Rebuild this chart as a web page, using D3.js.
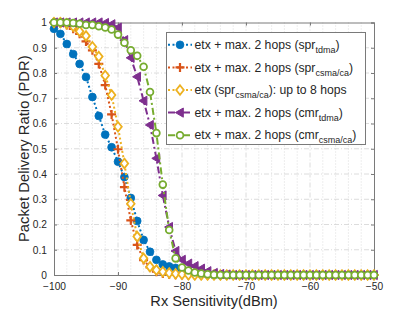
<!DOCTYPE html>
<html>
<head>
<meta charset="utf-8">
<script src="https://cdn.jsdelivr.net/npm/d3@7"></script>
<style>
  body { margin: 0; background: #fff; }
  svg { font-family: "Liberation Sans", Arial, sans-serif; }
</style>
</head>
<body>
<div id="chart"></div>
<script>
// Rx sensitivity (dBm), one point per dB
const rxSens = [-100,-99,-98,-97,-96,-95,-94,-93,-92,-91,-90,-89,-88,-87,-86,-85,-84,-83,-82,-81,
  -80,-79,-78,-77,-76,-75,-74,-73,-72,-71,-70,-69,-68,-67,-66,-65,-64,-63,-62,-61,
  -60,-59,-58,-57,-56,-55,-54,-53,-52,-51,-50];

const sprTdma = [0.975,0.955,0.915,0.875,0.836,0.784,0.705,0.63,0.556,0.506,0.449,0.388,0.305,0.214,0.139,0.092,0.06,0.042,0.034,0.028,
  0.022,0.015,0.008,0.004,0.002,0,0,0,0,0,0,0,0,0,0,0,0,0,0,0,
  0,0,0,0,0,0,0,0,0,0,0];
const sprCsma = [1,0.997,0.99,0.975,0.955,0.925,0.89,0.836,0.752,0.636,0.498,0.348,0.216,0.119,0.059,0.03,0.013,0.006,0.003,0.001,
  0,0,0,0,0,0,0,0,0,0,0,0,0,0,0,0,0,0,0,0,
  0,0,0,0,0,0,0,0,0,0,0];
const etx8Hops = [1,1,0.995,0.985,0.965,0.947,0.904,0.865,0.79,0.713,0.587,0.442,0.282,0.152,0.066,0.033,0.02,0.013,0.008,0.005,
  0.003,0.001,0,0,0,0,0,0,0,0,0,0,0,0,0,0,0,0,0,0,
  0,0,0,0,0,0,0,0,0,0,0];
const cmrTdma = [1,1,1,1,1,1,1,1,0.998,0.993,0.98,0.93,0.86,0.785,0.69,0.594,0.462,0.315,0.19,0.095,
  0.06,0.045,0.035,0.025,0.015,0.008,0.004,0.002,0,0,0,0,0,0,0,0,0,0,0,0,
  0,0,0,0,0,0,0,0,0,0,0];
const cmrCsma = [1,1,1,0.998,0.995,0.99,0.99,0.985,0.98,0.972,0.952,0.92,0.89,0.868,0.825,0.725,0.562,0.358,0.178,0.066,
  0.03,0.018,0.01,0.006,0.003,0.001,0,0,0,0,0,0,0,0,0,0,0,0,0,0,
  0,0,0,0,0,0,0,0,0,0,0];

const xTicks = [-100,-90,-80,-70,-60,-50];
const xMinor = [-98,-96,-94,-92,-88,-86,-84,-82,-78,-76,-74,-72,-68,-66,-64,-62,-58,-56,-54,-52];
const yTicks = [0,0.1,0.2,0.3,0.4,0.5,0.6,0.7,0.8,0.9,1];

const series = [
  {values: sprTdma, color: "#0072BD", dash: "2,2.5", marker: "circleFill",
   label: ["etx + max. 2 hops (spr", "tdma", ")"]},
  {values: sprCsma, color: "#D95319", dash: "2,2.5", marker: "plus",
   label: ["etx + max. 2 hops (spr", "csma/ca", ")"]},
  {values: etx8Hops, color: "#EDB120", dash: "2,2.5", marker: "diamond",
   label: ["etx (spr", "csma/ca", "): up to 8 hops"]},
  {values: cmrTdma, color: "#7E2F8E", dash: "7,3,2,3", marker: "triLeft",
   label: ["etx + max. 2 hops (cmr", "tdma", ")"]},
  {values: cmrCsma, color: "#77AC30", dash: "7,3,2,3", marker: "circleOpen",
   label: ["etx + max. 2 hops (cmr", "csma/ca", ")"]}
];

const W = 415, H = 312;
const plot = {left: 54, right: 374, top: 22.5, bottom: 275};

const x = d3.scaleLinear().domain([-100, -50]).range([plot.left, plot.right]);
const y = d3.scaleLinear().domain([0, 1]).range([plot.bottom, plot.top]);

const svg = d3.select("#chart").append("svg")
  .attr("width", W).attr("height", H);

svg.append("rect").attr("width", W).attr("height", H).attr("fill", "#fff");

// grid
const grid = svg.append("g");
grid.selectAll("line.minor").data(xMinor).enter().append("line")
  .attr("x1", d => x(d)).attr("x2", d => x(d))
  .attr("y1", plot.top).attr("y2", plot.bottom)
  .attr("stroke", "#d3d3d3").attr("stroke-width", 0.8).attr("stroke-dasharray", "1,2");
grid.selectAll("line.vmaj").data(xTicks.slice(1, -1)).enter().append("line")
  .attr("x1", d => x(d)).attr("x2", d => x(d))
  .attr("y1", plot.top).attr("y2", plot.bottom)
  .attr("stroke", "#d3d3d3").attr("stroke-width", 0.8).attr("stroke-dasharray", "5,2,1,2");
grid.selectAll("line.hmaj").data(yTicks.slice(1, -1)).enter().append("line")
  .attr("x1", plot.left).attr("x2", plot.right)
  .attr("y1", d => y(d)).attr("y2", d => y(d))
  .attr("stroke", "#d3d3d3").attr("stroke-width", 0.8).attr("stroke-dasharray", "5,2,1,2");

// axes (MATLAB-style box with inward ticks)
const tickColor = "#262626";
const xAxis = d3.axisBottom(x).tickValues(xTicks).tickSize(-3).tickPadding(8).tickFormat(d3.format("d"));
const yAxis = d3.axisLeft(y).tickValues(yTicks).tickSize(-3).tickPadding(7).tickFormat(d => d === 0 || d === 1 ? d : d.toFixed(1));

const gx = svg.append("g").attr("transform", `translate(0,${plot.bottom})`).call(xAxis);
const gy = svg.append("g").attr("transform", `translate(${plot.left},0)`).call(yAxis);
const gxTop = svg.append("g").attr("transform", `translate(0,${plot.top})`)
  .call(d3.axisTop(x).tickValues(xTicks).tickSize(-3).tickFormat(""));
const gyRight = svg.append("g").attr("transform", `translate(${plot.right},0)`)
  .call(d3.axisRight(y).tickValues(yTicks).tickSize(-3).tickFormat(""));

[gx, gy, gxTop, gyRight].forEach(g => {
  g.select(".domain").attr("stroke", "#7a7a7a").attr("stroke-width", 1);
  g.selectAll(".tick line").attr("stroke", "#7a7a7a");
  g.selectAll(".tick text").attr("fill", tickColor).style("font-size", "10.2px")
    .style("font-family", "Liberation Sans, Arial, sans-serif");
});

// axis labels
svg.append("text")
  .attr("x", (plot.left + plot.right) / 2).attr("y", 306)
  .attr("text-anchor", "middle").attr("fill", tickColor)
  .style("font-size", "14.6px")
  .text("Rx Sensitivity(dBm)");
svg.append("text")
  .attr("transform", `translate(29,${(plot.top + plot.bottom) / 2}) rotate(-90)`)
  .attr("text-anchor", "middle").attr("fill", tickColor)
  .style("font-size", "14.8px")
  .text("Packet Delivery Ratio (PDR)");

// marker drawing
function drawMarker(g, type, color) {
  if (type === "circleFill") {
    g.append("circle").attr("r", 3.9).attr("fill", color).attr("stroke", color).attr("stroke-width", 0.8);
  } else if (type === "circleOpen") {
    g.append("circle").attr("r", 3.4).attr("fill", "#fff").attr("stroke", color).attr("stroke-width", 1.8);
  } else if (type === "plus") {
    g.append("path").attr("d", "M-4.5,0H4.5M0,-4.5V4.5")
      .attr("stroke", color).attr("stroke-width", 2.2).attr("fill", "none");
  } else if (type === "diamond") {
    g.append("path").attr("d", "M0,-4.8L3.8,0L0,4.8L-3.8,0Z")
      .attr("fill", "#fff").attr("stroke", color).attr("stroke-width", 1.8);
  } else if (type === "triLeft") {
    g.append("path").attr("d", "M-4.6,0L3.3,-4.6L3.3,4.6Z")
      .attr("fill", color).attr("stroke", color).attr("stroke-width", 1);
  }
}

svg.append("defs").append("clipPath").attr("id", "plotClip")
  .append("rect").attr("x", plot.left - 6).attr("y", plot.top - 6)
  .attr("width", plot.right - plot.left + 12).attr("height", plot.bottom - plot.top + 12);

const line = d3.line().x(d => x(d[0])).y(d => y(d[1]));

const dataG = svg.append("g").attr("clip-path", "url(#plotClip)");
series.forEach(s => {
  const pts = rxSens.map((v, i) => [v, s.values[i]]);
  dataG.append("path").datum(pts)
    .attr("d", line).attr("fill", "none")
    .attr("stroke", s.color).attr("stroke-width", 2)
    .attr("stroke-dasharray", s.dash);
  const mk = dataG.append("g");
  pts.forEach(p => {
    const m = mk.append("g").attr("transform", `translate(${x(p[0])},${y(p[1])})`);
    drawMarker(m, s.marker, s.color);
  });
});

// legend
const lg = svg.append("g");
lg.append("rect").attr("x", 166.5).attr("y", 32.5).attr("width", 199).attr("height", 112)
  .attr("fill", "#fff").attr("stroke", "#7a7a7a").attr("stroke-width", 1);
series.forEach((s, i) => {
  const cy = 44.8 + i * 22.6;
  lg.append("line").attr("x1", 168).attr("x2", 192).attr("y1", cy).attr("y2", cy)
    .attr("stroke", s.color).attr("stroke-width", 2).attr("stroke-dasharray", s.dash);
  drawMarker(lg.append("g").attr("transform", `translate(180,${cy})`), s.marker, s.color);
  const t = lg.append("text").attr("x", 194.5).attr("y", cy + 4.2)
    .attr("fill", tickColor).style("font-size", "12.2px");
  t.append("tspan").text(s.label[0]);
  t.append("tspan").attr("dy", 4).style("font-size", "9px").text(s.label[1]);
  t.append("tspan").attr("dy", -4).text(s.label[2]);
});
</script>
</body>
</html>
